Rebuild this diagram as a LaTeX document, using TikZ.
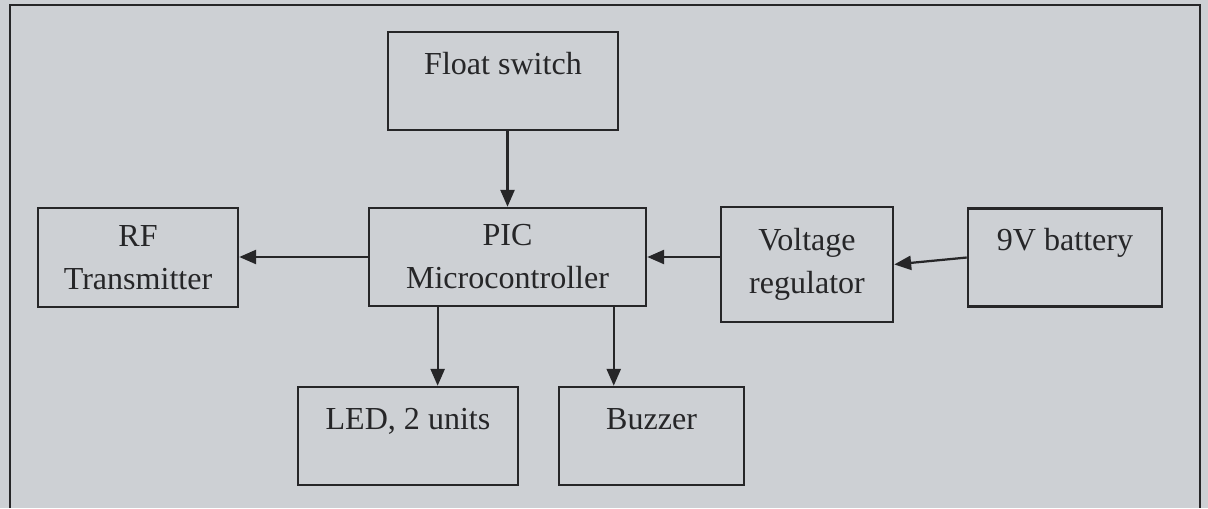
\documentclass[tikz,border=0pt]{standalone}
\usepackage{fontspec}
\setmainfont{Liberation Serif}
\usepackage{tikz}
\usetikzlibrary{calc, positioning, arrows.meta}
\usepackage{xcolor}
\definecolor{scangray}{RGB}{205, 208, 212}
\definecolor{inkgray}{RGB}{38, 38, 40}

\tikzset{
    block/.style={draw=inkgray, line width=0.9pt, inner xsep=2pt, align=center,
        text=inkgray, font=\fontsize{11.4}{15.3}\selectfont},
    topblock/.style={block, inner ysep=0pt, text height=0.53cm, text depth=0.695cm},
    flow/.style={draw=inkgray, line width=0.8pt, -{Triangle[length=6pt, width=5pt]}},
}

\begin{document}
\begin{tikzpicture}
    % 背景与外框
    \useasboundingbox[fill=scangray] (0,0) rectangle (15.1,6.35);
    \draw[inkgray, line width=0.9pt] (0.125,0) -- (0.125,6.2875) -- (15.0,6.2875) -- (15.0,0);

    % 方框
    \node[topblock, minimum width=2.875cm] (fs) at (6.2875,5.3375) {Float switch};
    \node[block, minimum width=3.4625cm, minimum height=1.225cm] (pic) at (6.344,3.1375) {PIC\\Microcontroller};
    \node[block, minimum width=2.5cm, minimum height=1.2375cm] (rf) at (1.725,3.131) {RF\\Transmitter};
    \node[block, minimum width=2.15cm, minimum height=1.4375cm] (vr) at (10.0875,3.044) {Voltage\\regulator};
    \node[topblock, minimum width=2.425cm] (bat) at (13.3125,3.131) {9V battery};
    \node[topblock, minimum width=2.75cm] (led) at (5.1,0.9) {LED, 2 units};
    \node[topblock, minimum width=2.3125cm] (buz) at (8.144,0.9) {Buzzer};

    % 输出端点
    \coordinate (ledout) at ($(pic.south west)!0.25!(pic.south east)$);
    \coordinate (buzout) at ($(pic.south west)!0.88!(pic.south east)$);

    % 箭头
    \draw[flow] (fs.south -| pic.north) -- (pic.north);
    \draw[flow] (pic.west) -- (pic.west -| rf.east);
    \draw[flow] (pic.east -| vr.west) -- (pic.east);
    \draw[flow] (bat.west) -- (vr.east);
    \draw[flow] (ledout) -- (ledout |- led.north);
    \draw[flow] (buzout) -- (buzout |- buz.north);

\end{tikzpicture}
\end{document}
